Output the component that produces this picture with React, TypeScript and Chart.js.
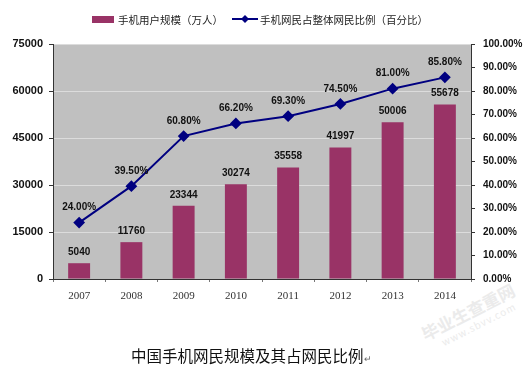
import React, { useEffect, useRef } from "react";
import { Chart, registerables } from "chart.js";

Chart.register(...registerables);

const years = ["2007", "2008", "2009", "2010", "2011", "2012", "2013", "2014"];
const mobileUsers = [5040, 11760, 23344, 30274, 35558, 41997, 50006, 55678];
const mobileShare = [24.0, 39.5, 60.8, 66.2, 69.3, 74.5, 81.0, 85.8];
const barLabel = "手机用户规模（万人）";
const lineLabel = "手机网民占整体网民比例（百分比）";
const chartTitle = "中国手机网民规模及其占网民比例";

const BAR_COLOR = "#993366";
const LINE_COLOR = "#000080";

const plotBg = {
  id: "plotBg",
  beforeDraw(chart: any) {
    const { ctx, chartArea } = chart;
    ctx.save();
    ctx.fillStyle = "#c0c0c0";
    ctx.fillRect(chartArea.left, chartArea.top, chartArea.right - chartArea.left, chartArea.bottom - chartArea.top);
    ctx.strokeStyle = "#8c8c8c";
    ctx.lineWidth = 1;
    ctx.beginPath();
    ctx.moveTo(chartArea.left, chartArea.top + 0.5);
    ctx.lineTo(chartArea.right, chartArea.top + 0.5);
    ctx.stroke();
    ctx.restore();
  },
};

const valueLabels = {
  id: "valueLabels",
  afterDatasetsDraw(chart: any) {
    const { ctx } = chart;
    ctx.save();
    ctx.font = "bold 10px 'Liberation Sans', Arial, sans-serif";
    ctx.fillStyle = "#111";
    ctx.textAlign = "center";
    ctx.textBaseline = "middle";
    chart.data.datasets.forEach((ds: any, i: number) => {
      const meta = chart.getDatasetMeta(i);
      meta.data.forEach((el: any, j: number) => {
        const v = ds.data[j];
        if (ds.type === "bar") {
          ctx.fillText(String(v), el.x, el.y - 11);
        } else {
          ctx.fillText(v.toFixed(2) + "%", el.x, el.y - 15);
        }
      });
    });
    ctx.restore();
  },
};

export default function App() {
  const ref = useRef<HTMLCanvasElement>(null);
  useEffect(() => {
    if (!ref.current) return;
    const chart = new Chart(ref.current, {
      type: "bar",
      data: {
        labels: years,
        datasets: [
          {
            type: "line",
            label: lineLabel,
            data: mobileShare,
            yAxisID: "y1",
            borderColor: LINE_COLOR,
            backgroundColor: LINE_COLOR,
            borderWidth: 2,
            pointStyle: "rectRot",
            pointRadius: 4.5,
            pointBackgroundColor: LINE_COLOR,
            pointBorderColor: LINE_COLOR,
            tension: 0,
            order: 0,
          } as any,
          {
            type: "bar",
            label: barLabel,
            data: mobileUsers,
            yAxisID: "y",
            backgroundColor: BAR_COLOR,
            borderWidth: 0,
            barPercentage: 0.42,
            categoryPercentage: 1,
            order: 1,
          } as any,
        ],
      },
      options: {
        animation: false,
        responsive: false,
        maintainAspectRatio: false,
        layout: { padding: { top: 44, left: 0, right: 0, bottom: 0 } },
        plugins: {
          legend: { display: false },
          tooltip: { enabled: false },
          title: { display: false },
        },
        scales: {
          x: {
            offset: true,
            grid: {
              offset: true,
              drawOnChartArea: false,
              tickLength: 3,
              tickColor: "#777",
            },
            border: { color: "#333", width: 1 },
            ticks: {
              padding: 8,
              color: "#333",
              font: { family: "'Liberation Serif', 'DejaVu Serif', serif", size: 11 },
            },
            afterFit(scale: any) {
              scale.height = 90;
            },
          },
          y: {
            position: "left",
            min: 0,
            max: 75000,
            ticks: {
              stepSize: 15000,
              padding: 6,
              color: "#111",
              font: { family: "'Liberation Sans', Arial, sans-serif", size: 11, weight: "bold" },
              callback: (v: any) => String(v),
            },
            grid: { color: "#dcdcdc", tickColor: "#333", tickLength: 4 },
            border: { color: "#333", width: 1 },
            afterFit(scale: any) {
              scale.width = 53;
            },
          },
          y1: {
            position: "right",
            min: 0,
            max: 100,
            ticks: {
              stepSize: 10,
              padding: 8,
              color: "#111",
              font: { family: "'Liberation Sans', Arial, sans-serif", size: 10, weight: "bold" },
              callback: (v: any) => Number(v).toFixed(2) + "%",
            },
            grid: { drawOnChartArea: false, tickColor: "#333", tickLength: 4 },
            border: { color: "#333", width: 1 },
            afterFit(scale: any) {
              scale.width = 60;
            },
          },
        },
      } as any,
      plugins: [plotBg, valueLabels],
    });
    return () => chart.destroy();
  }, []);

  const legendFont = "'Noto Sans CJK SC', 'Noto Sans', sans-serif";
  return (
    <div style={{ position: "fixed", left: 0, top: 0, width: 531, height: 369, background: "#fff", overflow: "hidden" }}>
      <div
        style={{
          position: "absolute",
          left: 418,
          top: 326,
          transform: "rotate(-27deg)",
          transformOrigin: "left top",
          fontFamily: legendFont,
          color: "#ebebeb",
          whiteSpace: "nowrap",
          lineHeight: 1.15,
        }}
      >
        <div style={{ fontSize: 17, fontWeight: "bold" }}>毕业生查重网</div>
        <div style={{ fontSize: 10, marginLeft: 14, letterSpacing: 1 }}>www.sbvv.com</div>
      </div>
      <canvas ref={ref} width={531} height={369} style={{ position: "absolute", left: 0, top: 0, width: 531, height: 369 }} />
      <div
        style={{
          position: "absolute",
          left: 92,
          top: 11,
          height: 16,
          display: "flex",
          alignItems: "center",
          fontFamily: legendFont,
          fontSize: 10.5,
          color: "#222",
          whiteSpace: "nowrap",
        }}
      >
        <span style={{ display: "inline-block", width: 22, height: 7, background: BAR_COLOR, marginRight: 4 }} />
        <span>{barLabel}</span>
        <svg width={26} height={10} style={{ marginLeft: 9, marginRight: 2 }}>
          <line x1={0} y1={5} x2={26} y2={5} stroke={LINE_COLOR} strokeWidth={2} />
          <polygon points="13,1 17,5 13,9 9,5" fill={LINE_COLOR} />
        </svg>
        <span>{lineLabel}</span>
      </div>
      <div
        style={{
          position: "absolute",
          left: 131,
          top: 344,
          fontFamily: legendFont,
          fontSize: 15.5,
          color: "#111",
          whiteSpace: "nowrap",
        }}
      >
        {chartTitle}
        <span style={{ fontSize: 9, color: "#666" }}>↵</span>
      </div>
    </div>
  );
}
